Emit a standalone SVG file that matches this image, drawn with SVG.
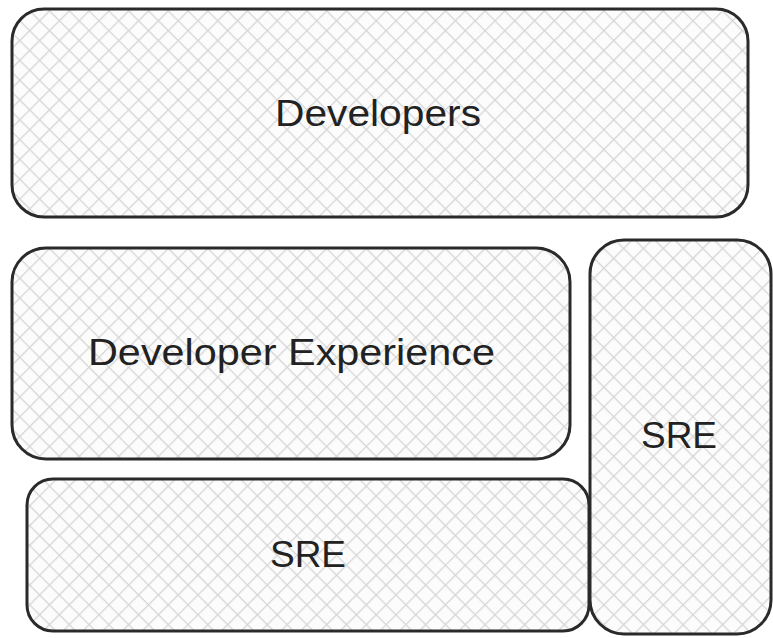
<svg xmlns="http://www.w3.org/2000/svg" width="773" height="638" viewBox="0 0 773 638">
<defs>
<pattern id="hatch" width="14" height="14" patternUnits="userSpaceOnUse" patternTransform="rotate(45)">
<rect width="14" height="14" fill="#fcfcfc"/>
<line x1="0" y1="0" x2="0" y2="14" stroke="#d6d6d6" stroke-width="2.6"/>
<line x1="0" y1="0" x2="14" y2="0" stroke="#d6d6d6" stroke-width="2.6"/>
</pattern>
<style>
.box{fill:url(#hatch);stroke:#2a2a2a;stroke-width:3;}
.lbl{font-family:"Liberation Sans",Arial,sans-serif;font-size:37px;fill:#222;text-anchor:start;}
</style>
</defs>
<rect width="773" height="638" fill="#ffffff"/>
<g id="developers">
<rect class="box" x="12" y="9" width="736" height="208" rx="32"/>
<text class="lbl" x="275" y="126" textLength="206" lengthAdjust="spacingAndGlyphs">Developers</text>
</g>
<g id="developer-experience">
<rect class="box" x="12" y="248" width="558" height="211" rx="34"/>
<text class="lbl" x="88" y="365" textLength="407" lengthAdjust="spacingAndGlyphs">Developer Experience</text>
</g>
<g id="sre-bottom">
<rect class="box" x="27" y="479" width="562" height="152" rx="26"/>
<text class="lbl" x="270" y="567" font-size="35" textLength="76" lengthAdjust="spacingAndGlyphs">SRE</text>
</g>
<g id="sre-right">
<rect class="box" x="590" y="240" width="181" height="394" rx="34"/>
<text class="lbl" x="641" y="448" font-size="35" textLength="76" lengthAdjust="spacingAndGlyphs">SRE</text>
</g>
<g id="connectors"></g>
</svg>
